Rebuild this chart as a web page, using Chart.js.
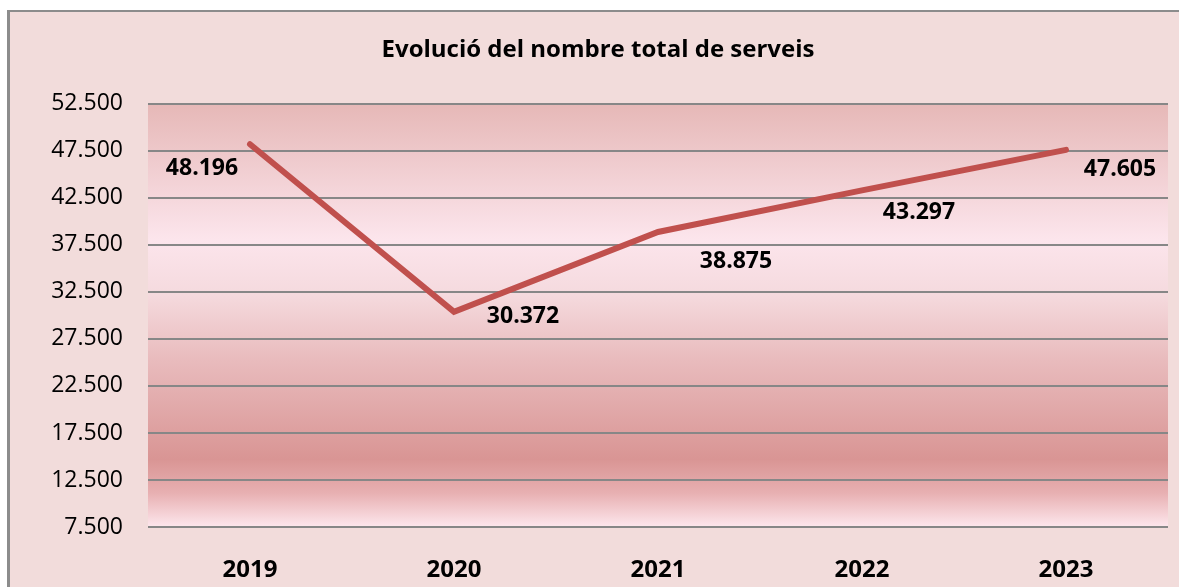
<!DOCTYPE html>
<html>
<head>
<meta charset="utf-8">
<script src="https://cdn.jsdelivr.net/npm/chart.js@4"></script>
<style>
  html, body { margin: 0; padding: 0; background: #ffffff; }
  #wrap { position: relative; width: 1179px; height: 587px; }
</style>
</head>
<body>
<div id="wrap"><canvas id="chart" width="1179" height="587"></canvas></div>
<script>
// dades del gràfic
const anys = ['2019', '2020', '2021', '2022', '2023'];
const serveis = [48196, 30372, 38875, 43297, 47605];
const etiquetes = ['48.196', '30.372', '38.875', '43.297', '47.605'];
const titol = 'Evolució del nombre total de serveis';

// desplaçament de cada etiqueta respecte al seu punt
const offsets = [[-48, 24], [69, 5], [78, 30], [57, 22], [54, 20]];

const fontFamily = '"Open Sans", "DejaVu Sans", sans-serif';

// fons exterior i vora
const fonsPlugin = {
  id: 'fons',
  beforeDraw(chart) {
    const ctx = chart.ctx;
    ctx.save();
    ctx.fillStyle = '#ffffff';
    ctx.fillRect(0, 0, chart.width, chart.height);
    ctx.fillStyle = '#F2DCDB';
    ctx.fillRect(8, 10, chart.width, chart.height);
    ctx.fillStyle = '#8c8c8c';
    ctx.fillRect(7, 10, 3, chart.height);
    ctx.fillRect(7, 10, chart.width, 2);

    // degradat de l'àrea del gràfic
    const a = chart.chartArea;
    const g = ctx.createLinearGradient(0, a.top, 0, a.bottom);
    g.addColorStop(0, 'rgb(230,184,183)');
    g.addColorStop(0.15, 'rgb(240,205,208)');
    g.addColorStop(0.32, 'rgb(252,229,236)');
    g.addColorStop(0.45, 'rgb(245,218,222)');
    g.addColorStop(0.6, 'rgb(233,188,190)');
    g.addColorStop(0.84, 'rgb(217,149,148)');
    g.addColorStop(0.92, 'rgb(232,176,178)');
    g.addColorStop(1, 'rgb(253,231,237)');
    ctx.fillStyle = g;
    ctx.fillRect(a.left, a.top, a.right - a.left, a.bottom - a.top);
    ctx.restore();
  }
};

// etiquetes de valor
const etiquetesPlugin = {
  id: 'etiquetes',
  afterDatasetsDraw(chart) {
    const ctx = chart.ctx;
    const meta = chart.getDatasetMeta(0);
    ctx.save();
    ctx.font = 'bold 23px ' + fontFamily;
    ctx.fillStyle = '#000000';
    ctx.textAlign = 'center';
    ctx.textBaseline = 'middle';
    meta.data.forEach((pt, i) => {
      ctx.fillText(etiquetes[i], pt.x + offsets[i][0], pt.y + offsets[i][1]);
    });
    ctx.restore();
  }
};

new Chart(document.getElementById('chart'), {
  type: 'line',
  data: {
    labels: anys,
    datasets: [{
      data: serveis,
      borderColor: '#C0504D',
      borderWidth: 6,
      pointRadius: 0,
      tension: 0,
      borderCapStyle: 'round'
    }]
  },
  options: {
    responsive: false,
    animation: false,
    layout: { padding: { left: 28, right: 11, top: 0, bottom: 0 } },
    plugins: {
      legend: { display: false },
      tooltip: { enabled: false },
      title: {
        display: true,
        text: titol,
        color: '#000000',
        font: { family: fontFamily, size: 24, weight: 'bold', lineHeight: 1.2 },
        padding: { top: 36, bottom: 39 }
      }
    },
    scales: {
      x: {
        offset: true,
        grid: { display: false },
        border: { display: false },
        ticks: {
          color: '#000000',
          padding: 21,
          font: { family: fontFamily, size: 24, weight: 'bold' }
        },
        afterFit(scale) { scale.height = 60; }
      },
      y: {
        min: 7500,
        max: 52500,
        grid: { color: '#878787', lineWidth: 2, drawTicks: false },
        border: { display: false },
        ticks: {
          stepSize: 5000,
          color: '#000000',
          padding: 25,
          font: { family: fontFamily, size: 23 },
          callback: v => v.toLocaleString('de-DE', { minimumFractionDigits: 0 }).replace(',', '.')
        },
        afterFit(scale) { scale.width = 120; }
      }
    }
  },
  plugins: [fonsPlugin, etiquetesPlugin]
});
</script>
</body>
</html>
